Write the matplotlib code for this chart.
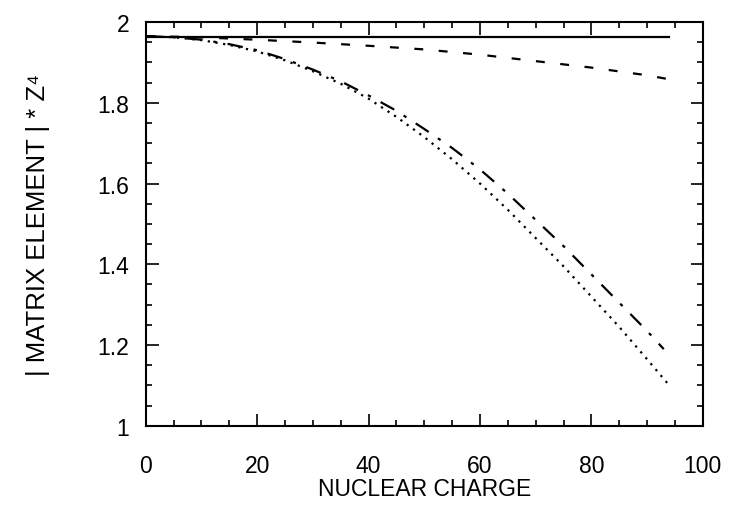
import numpy as np
import matplotlib
matplotlib.use("Agg")
import matplotlib.pyplot as plt
from matplotlib.ticker import MultipleLocator

plt.rcParams['font.family'] = ['Liberation Sans', 'DejaVu Sans']

# values
z_solid = [0, 94]
solid = [1.962, 1.962]

z_dash = [0, 10, 20, 30, 40, 50, 60, 70, 80, 90, 94]
dashed = [1.965, 1.962, 1.956, 1.949, 1.941, 1.932, 1.919, 1.903, 1.887, 1.868, 1.858]

z_dashdot = [0, 5, 10, 15, 20, 25, 30, 35, 40, 45, 50, 55, 60, 65, 70, 75, 80, 85, 90, 93]
dashdot = [1.965, 1.962, 1.956, 1.945, 1.930, 1.908, 1.882, 1.853, 1.818, 1.780,
           1.735, 1.688, 1.635, 1.575, 1.510, 1.445, 1.375, 1.305, 1.235, 1.190]

z_dot = [0, 5, 10, 15, 20, 25, 30, 35, 40, 45, 50, 55, 60, 65, 70, 75, 80, 85, 90, 94]
dotted = [1.965, 1.962, 1.955, 1.943, 1.927, 1.905, 1.878, 1.847, 1.810, 1.765,
          1.715, 1.660, 1.600, 1.535, 1.465, 1.395, 1.320, 1.245, 1.165, 1.100]

fig = plt.figure(figsize=(7.29, 5.10), dpi=100)
ax = fig.add_axes([0.200, 0.163, 0.764, 0.792])

ax.plot(z_solid, solid, color='black', lw=1.6)
ax.plot(z_dash, dashed, color='black', lw=1.6, linestyle=(0, (4, 7)))
ax.plot(z_dashdot, dashdot, color='black', lw=1.6, linestyle=(0, (7, 5, 1.5, 5)))
ax.plot(z_dot, dotted, color='black', lw=1.6, linestyle=(0, (1, 2.5)))

ax.set_xlim(0, 100)
ax.set_ylim(1, 2)
ax.xaxis.set_minor_locator(MultipleLocator(5))
ax.yaxis.set_minor_locator(MultipleLocator(0.05))
ax.set_xticks([0, 20, 40, 60, 80, 100])
ax.set_xticklabels(['0', '20', '40', '60', '80', '100'])
ax.set_yticks([1, 1.2, 1.4, 1.6, 1.8, 2])
ax.set_yticklabels(['1', '1.2', '1.4', '1.6', '1.8', '2'])

ax.tick_params(which='both', direction='in', top=True, right=True, width=1.2, labelsize=16.5)
ax.tick_params(which='major', length=9)
ax.tick_params(which='minor', length=4.5)
ax.tick_params(axis='x', pad=20)
ax.tick_params(axis='y', pad=12)
for s in ax.spines.values():
    s.set_linewidth(1.5)

ax.set_xlabel('NUCLEAR CHARGE', fontsize=16.5, labelpad=0)
ax.set_ylabel('| MATRIX ELEMENT | * Z\u2074', fontsize=18.5, labelpad=34)

fig.savefig('out.png', dpi=100)
